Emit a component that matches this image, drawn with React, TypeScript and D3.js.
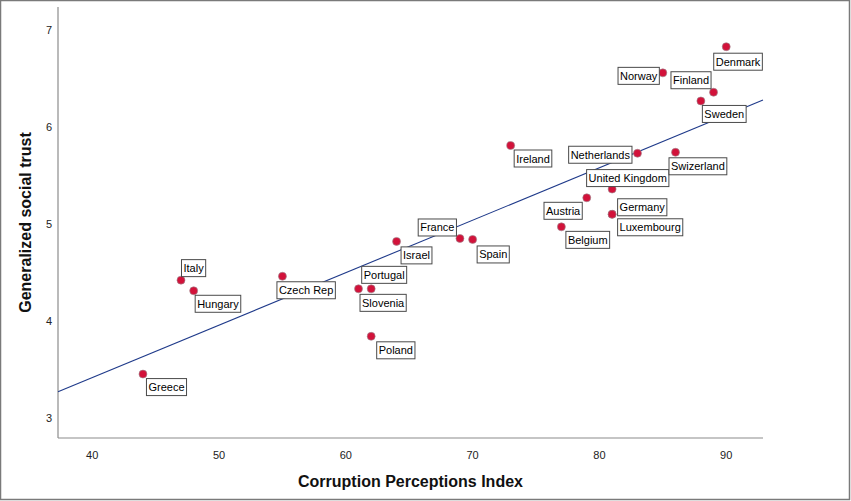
import { useEffect, useRef } from 'react';
import * as d3 from 'd3';

// values
const countries = [
  'Greece', 'Italy', 'Hungary', 'Czech Rep', 'Slovenia', 'Portugal', 'Poland',
  'Israel', 'France', 'Spain', 'Ireland', 'Belgium', 'Austria', 'United Kingdom',
  'Germany', 'Luxembourg', 'Netherlands', 'Swizerland', 'Norway', 'Finland',
  'Sweden', 'Denmark',
];
const cpi = [44, 47, 48, 55, 61, 62, 62, 64, 69, 70, 73, 77, 79, 81, 81, 81, 83, 86, 85, 89, 88, 90];
const trust = [
  3.45, 4.42, 4.31, 4.46, 4.33, 4.33, 3.84, 4.82, 4.85, 4.84, 5.81, 4.97, 5.27, 5.36,
  5.10, 5.10, 5.73, 5.74, 6.56, 6.36, 6.27, 6.83,
];
const xTicks = [40, 50, 60, 70, 80, 90];
const yTicks = [3, 4, 5, 6, 7];

// label box placement relative to its point: offset, and which box corner is anchored
const labelPlace: Record<string, [number, number, number, number]> = {
  Greece: [3, 4, 0, 0],
  Italy: [0, -4, 0, 1],
  Hungary: [1, 4, 0, 0],
  'Czech Rep': [-6, 5, 0, 0],
  Slovenia: [1, 5, 0, 0],
  Portugal: [-10, -6, 0, 1],
  Poland: [5, 5, 0, 0],
  Israel: [4, 5, 0, 0],
  France: [-4, -3, 1, 1],
  Spain: [4, 6, 0, 0],
  Ireland: [3, 4, 0, 0],
  Belgium: [4, 4, 0, 0],
  Austria: [-5, 4, 1, 0],
  'United Kingdom': [-26, -3, 0, 1],
  Germany: [5, 1, 0, 1],
  Luxembourg: [5, 4, 0, 0],
  Netherlands: [-6, 1, 1, 0.5],
  Swizerland: [-7, 5, 0, 0],
  Norway: [-4, -6, 1, 0],
  Finland: [-3, -4, 1, 1],
  Sweden: [1, 4, 0, 0],
  Denmark: [-13, 6, 0, 0],
};

const W = 851;
const H = 501;
const FONT = 'Arial, "Liberation Sans", sans-serif';

export default function App() {
  const svgRef = useRef<SVGSVGElement>(null);

  useEffect(() => {
    if (!svgRef.current) return;
    const svg = d3.select(svgRef.current);
    svg.selectAll('*').remove();

    const plot = { left: 58, right: 763, top: 7, bottom: 438 };
    const x = d3.scaleLinear().domain([37.3, 92.9]).range([plot.left, plot.right]);
    const y = d3.scaleLinear().domain([2.79, 7.24]).range([plot.bottom, plot.top]);

    // background + outer frame
    svg.append('rect').attr('width', W).attr('height', H).attr('fill', '#fff');
    svg.append('rect')
      .attr('x', 0.5).attr('y', 0.5)
      .attr('width', W - 2).attr('height', H - 2)
      .attr('fill', 'none')
      .attr('stroke', '#7a7a7a')
      .attr('stroke-width', 1.5);

    // axes lines
    svg.append('line')
      .attr('x1', plot.left).attr('x2', plot.left)
      .attr('y1', plot.top).attr('y2', plot.bottom)
      .attr('stroke', '#8c8c8c').attr('stroke-width', 1.2);
    svg.append('line')
      .attr('x1', plot.left).attr('x2', plot.right)
      .attr('y1', plot.bottom).attr('y2', plot.bottom)
      .attr('stroke', '#8c8c8c').attr('stroke-width', 1.2);

    // tick labels
    svg.append('g').selectAll('text')
      .data(yTicks)
      .join('text')
      .attr('x', plot.left - 6)
      .attr('y', d => y(d))
      .attr('dy', '0.35em')
      .attr('text-anchor', 'end')
      .attr('font-family', FONT)
      .attr('font-size', 11)
      .attr('fill', '#222')
      .text(d => d);
    svg.append('g').selectAll('text')
      .data(xTicks)
      .join('text')
      .attr('x', d => x(d))
      .attr('y', 459)
      .attr('text-anchor', 'middle')
      .attr('font-family', FONT)
      .attr('font-size', 11)
      .attr('fill', '#222')
      .text(d => d);

    // axis titles
    svg.append('text')
      .attr('x', (plot.left + plot.right) / 2 + 0)
      .attr('y', 487)
      .attr('text-anchor', 'middle')
      .attr('font-family', FONT)
      .attr('font-size', 16)
      .attr('font-weight', 'bold')
      .attr('fill', '#111')
      .text('Corruption Perceptions Index');
    svg.append('text')
      .attr('transform', `translate(31,${(plot.top + plot.bottom) / 2}) rotate(-90)`)
      .attr('text-anchor', 'middle')
      .attr('font-family', FONT)
      .attr('font-size', 16)
      .attr('font-weight', 'bold')
      .attr('fill', '#111')
      .text('Generalized social trust');

    // least squares fit line
    const mx = d3.mean(cpi)!;
    const my = d3.mean(trust)!;
    const sxy = d3.sum(cpi, (v, i) => (v - mx) * (trust[i] - my));
    const sxx = d3.sum(cpi, v => (v - mx) ** 2);
    const slope = sxy / sxx;
    const icpt = my - slope * mx;
    const [x0, x1] = x.domain();
    svg.append('line')
      .attr('x1', x(x0)).attr('y1', y(icpt + slope * x0))
      .attr('x2', x(x1)).attr('y2', y(icpt + slope * x1))
      .attr('stroke', '#1f3a8a')
      .attr('stroke-width', 1.1);

    const pts = countries.map((name, i) => ({ name, cx: x(cpi[i]), cy: y(trust[i]) }));

    svg.append('g').selectAll('circle')
      .data(pts)
      .join('circle')
      .attr('cx', d => d.cx)
      .attr('cy', d => d.cy)
      .attr('r', 4)
      .attr('fill', '#d2123a')
      .attr('stroke', '#9a8a90')
      .attr('stroke-width', 0.6);

    // labels with boxes
    const lg = svg.append('g');
    pts.forEach(p => {
      const [dx, dy, ax, ay] = labelPlace[p.name] || [3, 4, 0, 0];
      const g = lg.append('g');
      const rect = g.append('rect');
      const t = g.append('text')
        .attr('font-family', FONT)
        .attr('font-size', 11)
        .attr('fill', '#000')
        .text(p.name);
      const tw = (t.node() as SVGTextElement).getComputedTextLength();
      const bw = tw + 4;
      const bh = 17;
      const bx = p.cx + dx - ax * bw;
      const by = p.cy + dy - ay * bh;
      rect.attr('x', bx + 0.5).attr('y', by + 0.5)
        .attr('width', bw).attr('height', bh)
        .attr('fill', '#fff')
        .attr('stroke', '#4a4a4a')
        .attr('stroke-width', 1);
      t.attr('x', bx + 2.5).attr('y', by + 13);
    });
  }, []);

  return (
    <svg
      ref={svgRef}
      width={W}
      height={H}
      style={{ position: 'absolute', left: 0, top: 0, display: 'block' }}
    />
  );
}
